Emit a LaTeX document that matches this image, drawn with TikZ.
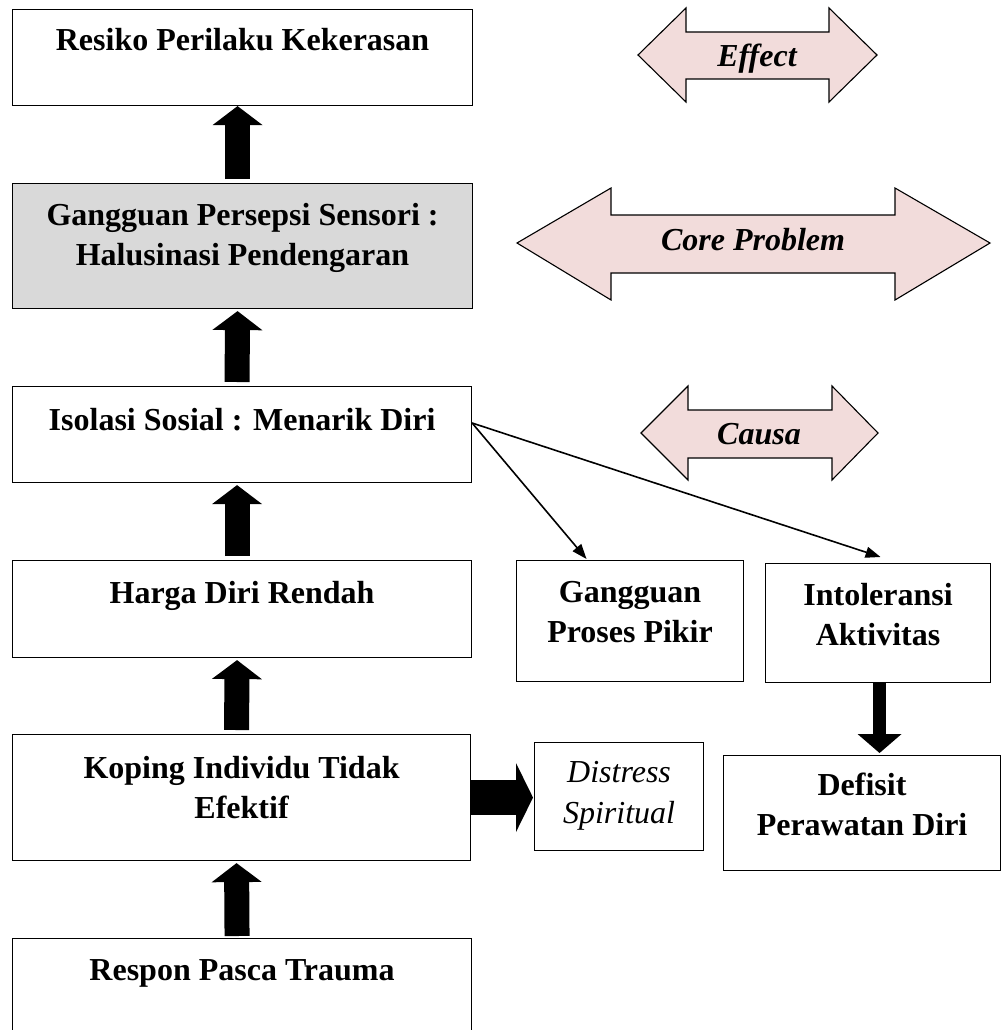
\documentclass[tikz,border=0pt]{standalone}
\usepackage{fontspec}
\setmainfont{Liberation Serif}
\usetikzlibrary{arrows.meta,calc,positioning}

\definecolor{pinkfill}{RGB}{242,220,219}
\definecolor{grayfill}{RGB}{217,217,217}

\tikzset{
	box/.style={draw, line width=1.1pt, anchor=north west, inner sep=0pt},
	txt/.style={anchor=north, inner sep=0pt, align=center,
		font=\fontsize{32}{40}\selectfont\bfseries},
	bigup/.style={line width=25pt,
		-{Triangle[length=19pt 0 0, width=50pt 0 0, line width=0pt]}},
	thinarrow/.style={line width=1.6pt,
		-{Triangle[length=15pt 0 0, width=11pt 0 0]}},
	pinkarrow/.style={fill=pinkfill, draw, line width=1.1pt, line join=miter},
}

\begin{document}
\begin{tikzpicture}[x=1pt, y=-1pt]
	\useasboundingbox (0,0) rectangle (1003,1030);

	% left column
	\node[box, minimum width=460pt, minimum height=96pt] (resiko) at (12,9) {};
	\node[box, fill=grayfill, minimum width=460pt, minimum height=125pt] (persepsi) at (12,183) {};
	\node[box, minimum width=459pt, minimum height=96pt] (isolasi) at (12,386) {};
	\node[box, minimum width=459pt, minimum height=97pt] (harga) at (12,560) {};
	\node[box, minimum width=458pt, minimum height=126pt] (koping) at (12,734) {};
	\node[box, minimum width=459pt, minimum height=110pt] (respon) at (12,938) {};

	\node[txt, below=19pt of resiko.north] (resikoTxt) {Resiko Perilaku Kekerasan};
	\node[txt, below=20.5pt of persepsi.north] (persepsiTxt) {Gangguan Persepsi Sensori :\\ Halusinasi Pendengaran};
	\node[txt, below=22pt of isolasi.north] (isolasiTxt) {Isolasi Sosial : Menarik Diri};
	\node[txt, below=21pt of harga.north] (hargaTxt) {Harga Diri Rendah};
	\node[txt, below=22pt of koping.north] (kopingTxt) {Koping Individu Tidak\\ Efektif};
	\node[txt, below=21pt of respon.north] (responTxt) {Respon Pasca Trauma};

	% right side
	\node[box, minimum width=227pt, minimum height=121pt] (pikir) at (516,560) {};
	\node[box, minimum width=225pt, minimum height=119pt] (intol) at (765,563) {};
	\node[box, minimum width=277pt, minimum height=115pt] (defisit) at (723,755) {};
	\node[box, minimum width=169pt, minimum height=108pt] (distress) at (534,742) {};

	\node[txt, below=21pt of pikir.north] (pikirTxt) {Gangguan\\ Proses Pikir};
	\node[txt, below=20pt of intol.north] (intolTxt) {Intoleransi\\ Aktivitas};
	\node[txt, below=18pt of defisit.north] (defisitTxt) {Defisit\\ Perawatan Diri};
	\node[txt, font=\fontsize{32}{41}\selectfont\itshape, below=19pt of distress.north] (distressTxt) {Distress\\ Spiritual};

	% block arrows
	\draw[bigup] ([xshift=-5pt, yshift=4pt]persepsi.north) -- ([xshift=-5pt]resiko.south);
	\draw[bigup] ([xshift=-5pt, yshift=4pt]isolasi.north) -- ([xshift=-5pt, yshift=-2pt]persepsi.south);
	\draw[bigup] ([xshift=-5pt, yshift=4pt]harga.north) -- ([xshift=-5pt, yshift=-2pt]isolasi.south);
	\draw[bigup] ([xshift=-5pt, yshift=4pt]koping.north) -- ([xshift=-5pt, yshift=-2pt]harga.south);
	\draw[bigup] ([xshift=-5pt, yshift=2pt]respon.north) -- ([xshift=-5pt, yshift=-2pt]koping.south);
	\draw[line width=13pt, -{Triangle[length=19pt 0 0, width=44pt 0 0, line width=0pt]}]
		([xshift=1.5pt]intol.south) -- ($(intol.south |- defisit.north)+(1.5,-2)$);
	\draw[line width=35pt, -{Triangle[length=17pt 0 0, width=69pt 0 0, line width=0pt]}]
		(koping.east) -- ($(koping.east -| distress.west)+(-1,0)$);

	% thin arrows
	\coordinate (isoOut) at ([yshift=-37pt]isolasi.north east);
	\draw[thinarrow] (isoOut) -- ([xshift=-43.5pt, yshift=1pt]pikir.north);
	\draw[thinarrow] (isoOut) -- ([xshift=2.5pt, yshift=6pt]intol.north);

	% effect / core problem / causa
	\draw[pinkarrow] (638,55) -- (686,8) -- (686,32) -- (829,32) -- (829,8) -- (877,55)
		-- (829,102) -- (829,79) -- (686,79) -- (686,102) -- cycle;
	\draw[pinkarrow] (517,243) -- (611,188) -- (611,215) -- (895,215) -- (895,188) -- (990,243)
		-- (895,300) -- (895,273) -- (611,273) -- (611,300) -- cycle;
	\draw[pinkarrow] (641,433) -- (688,386) -- (688,410) -- (832,410) -- (832,386) -- (878,433)
		-- (832,480) -- (832,458) -- (688,458) -- (688,480) -- cycle;
	\node[anchor=base, font=\fontsize{32}{40}\selectfont\bfseries\itshape] (effect) at (757,67) {Effect};
	\node[anchor=base, font=\fontsize{32}{40}\selectfont\bfseries\itshape] (core) at (753,250) {Core Problem};
	\node[anchor=base, font=\fontsize{32}{40}\selectfont\bfseries\itshape] (causa) at (759,444) {Causa};

\end{tikzpicture}
\end{document}
